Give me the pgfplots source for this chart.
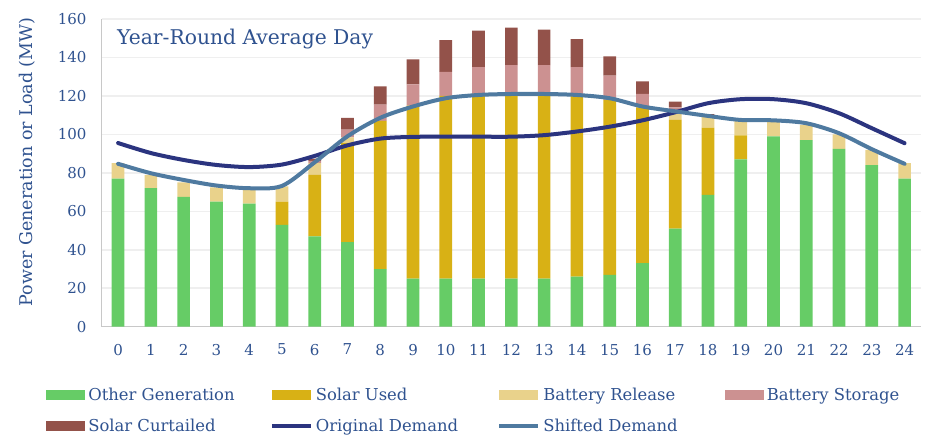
\documentclass[border=0pt]{standalone}
\usepackage{fontspec}
\setmainfont{DejaVu Serif}
\usepackage{pgfplots}
\usepackage{pgfplotstable}
\pgfplotsset{compat=1.18}

\definecolor{txt}{HTML}{2F528F}
\definecolor{othergen}{HTML}{66CC66}
\definecolor{solarused}{HTML}{D8B115}
\definecolor{battrel}{HTML}{E9D28B}
\definecolor{battsto}{HTML}{CC9191}
\definecolor{curtail}{HTML}{93524A}
\definecolor{origdem}{HTML}{2B347F}
\definecolor{shiftdem}{HTML}{4F7AA0}
\definecolor{gridc}{HTML}{EFEFEF}
\definecolor{axisc}{HTML}{C8C8C8}

% hour, stacked generation segments (MW), demand curves (MW)
\pgfplotstableread{
h  other solar release storage curtail orig  shifted
0  77    0     8       0       0       95.5  84.7
1  72    0     7       0       0       90.3  79.8
2  67.5  0     7.5     0       0       86.7  76.3
3  65    0     7.5     0       0       84.1  73.4
4  64    0     7       0       0       83.0  72.0
5  53    12    8       0       0       84.3  73.2
6  47    32    6       1.2     1.2     88.8  85.5
7  44    51.5  3       4       6.1     94.3  99.0
8  30    77    0       8.5     9.5     97.8  108.6
9  25    90    0       11      13      98.7  114.5
10 25    95    0       12.5    16.5    98.8  118.8
11 25    96    0       14      19      98.8  120.5
12 25    96.5  0       14.5    19.5    98.8  121.0
13 25    96.5  0       14.5    18.5    99.6  121.0
14 26    94.5  0       14.5    14.5    101.5 120.5
15 27    91    0       12.5    10      104.0 118.8
16 33    81    0       7       6.5     107.3 114.5
17 51    56.5  5       1.5     3       111.5 112.0
18 68.5  35    6       0       1       116.2 109.6
19 87    12.5  8       0       0       118.3 107.5
20 99    0     8       0       0       118.3 107.3
21 97    0     8       0       0       116.2 105.8
22 92.5  0     7.5     0       0       111.0 100.6
23 84    0     8       0       0       103.2 92.3
24 77    0     8       0       0       95.4  84.7
}\daydata

\pgfplotsset{
  swatch/.style={legend image code/.code={\fill[##1] (0pt,-5pt) rectangle (39pt,5pt);}},
  swline/.style={legend image code/.code={\draw[##1] (0pt,0pt) -- (39pt,0pt);}},
}
\newcommand{\legbox}[1]{\makebox[180.5pt][l]{#1}}

\begin{document}
\begin{tikzpicture}
\path[use as bounding box] (0pt,0pt) rectangle (946pt,444pt);
\begin{axis}[
  at={(101.7pt,117.3pt)}, anchor=south west,
  scale only axis, width=819.3pt, height=307.7pt,
  ybar stacked, bar width=12.7pt,
  xmin=-0.5, xmax=24.5, ymin=0, ymax=160,
  xtick={0,...,24}, ytick={0,20,...,160},
  major tick length=0pt,
  ymajorgrids, grid style={gridc, line width=1.5pt},
  axis x line*=bottom, axis y line*=left,
  axis line style={axisc, line width=1.5pt},
  /pgf/number format/assume math mode=true,
  ticklabel style={font=\fontsize{15}{15}\selectfont, text=txt},
  yticklabel style={inner sep=0pt, xshift=-15pt},
  xticklabel style={inner sep=0pt, yshift=-17pt},
  ylabel={Power Generation or Load (MW)},
  ylabel style={at={(axis description cs:-0.0912,0.535)}, anchor=center,
    font=\fontsize{17.5}{17.5}\selectfont, text=txt},
  legend columns=4,
  legend style={draw=none, fill=none, at={(axis description cs:-0.0715,-0.189)},
    anchor=north west, font=\fontsize{16.4}{16.4}\selectfont, text=txt,
    row sep=15pt, nodes={inner sep=1pt},
    /tikz/every odd column/.append style={column sep=2pt}},
]
\addplot[fill=othergen, draw=none, swatch] table[x=h, y=other] {\daydata};
\addlegendentry{\legbox{Other Generation}}
\addplot[fill=solarused, draw=none, swatch] table[x=h, y=solar] {\daydata};
\addlegendentry{\legbox{Solar Used}}
\addplot[fill=battrel, draw=none, swatch] table[x=h, y=release] {\daydata};
\addlegendentry{\legbox{Battery Release}}
\addplot[fill=battsto, draw=none, swatch] table[x=h, y=storage] {\daydata};
\addlegendentry{\legbox{Battery Storage}}
\addplot[fill=curtail, draw=none, swatch] table[x=h, y=curtail] {\daydata};
\addlegendentry{\legbox{Solar Curtailed}}
\addlegendimage{swline, origdem, line width=4pt}
\addlegendentry{\legbox{Original Demand}}
\addlegendimage{swline, shiftdem, line width=4pt}
\addlegendentry{\legbox{Shifted Demand}}
\node[anchor=base west, font=\fontsize{20.3}{20.3}\selectfont, text=txt, inner sep=0pt]
  at (axis description cs:0.0187,0.9155) {Year-Round Average Day};
\end{axis}
\begin{axis}[
  at={(101.7pt,117.3pt)}, anchor=south west,
  scale only axis, width=819.3pt, height=307.7pt,
  xmin=-0.5, xmax=24.5, ymin=0, ymax=160,
  hide axis,
]
\addplot[origdem, line width=4pt, smooth, tension=0.5, line cap=round]
  table[x=h, y=orig] {\daydata};
\addplot[shiftdem, line width=4pt, smooth, tension=0.5, line cap=round]
  table[x=h, y=shifted] {\daydata};
\end{axis}
\end{tikzpicture}
\end{document}
